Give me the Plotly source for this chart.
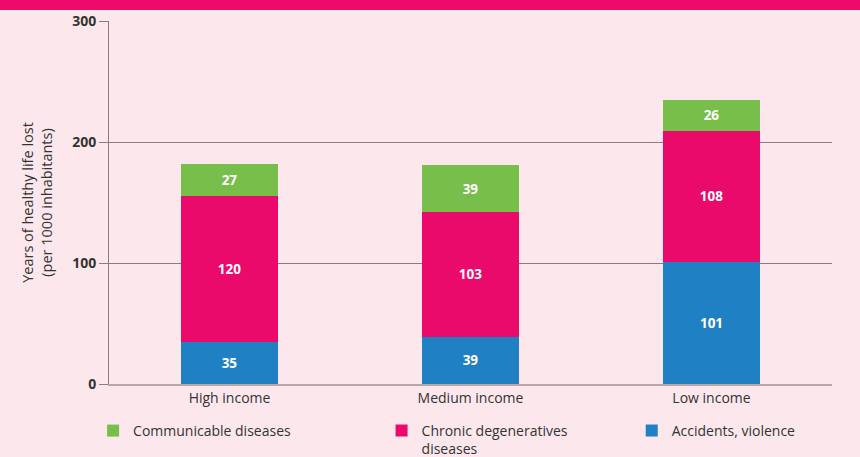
import plotly.graph_objects as go

categorias = ["High income", "Medium income", "Low income"]
accidentes = [35, 39, 101]
cronicas = [120, 103, 108]
transmisibles = [27, 39, 26]
y_ticks = [0, 100, 200, 300]

VERDE = "#78be4a"
ROSA = "#ea0a6b"
AZUL = "#1f80c3"
FONDO = "#fce8ec"
FUENTE = "Open Sans"

fig = go.Figure()
fig.add_trace(
    go.Bar(
        x=categorias,
        y=accidentes,
        name="Accidents, violence",
        marker_color=AZUL,
        text=accidentes,
        legend="legend3",
    )
)
fig.add_trace(
    go.Bar(
        x=categorias,
        y=cronicas,
        name="Chronic degeneratives<br>diseases",
        marker_color=ROSA,
        text=cronicas,
        legend="legend2",
    )
)
fig.add_trace(
    go.Bar(
        x=categorias,
        y=transmisibles,
        name="Communicable diseases",
        marker_color=VERDE,
        text=transmisibles,
        legend="legend",
    )
)
fig.update_traces(
    textposition="inside",
    insidetextanchor="middle",
    textangle=0,
    textfont=dict(family=FUENTE, size=13.5, color="white", weight="bold"),
    marker_line_width=0,
)

leyenda = dict(
    orientation="h",
    yref="container",
    yanchor="top",
    y=1 - 415 / 457,
    xanchor="left",
    bgcolor="rgba(0,0,0,0)",
    font=dict(family=FUENTE, size=14, color="#333333"),
    itemwidth=30,
    valign="top",
)

fig.update_layout(
    barmode="stack",
    bargap=0.6,
    width=860,
    height=457,
    margin=dict(l=109, r=28, t=21, b=73, autoexpand=False),
    paper_bgcolor=FONDO,
    plot_bgcolor=FONDO,
    font=dict(family=FUENTE, size=14, color="#333333"),
    showlegend=True,
    legend=dict(leyenda, x=-0.022),
    legend2=dict(leyenda, x=0.377),
    legend3=dict(leyenda, x=0.723),
    xaxis=dict(
        showline=True,
        linecolor="#b8a8ac",
        linewidth=1.5,
        tickfont=dict(family=FUENTE, size=14, color="#333333"),
        range=[-0.5, 2.5],
    ),
    yaxis=dict(
        range=[0, 300],
        tickvals=y_ticks,
        showgrid=True,
        gridcolor="#8c7c80",
        gridwidth=1,
        zeroline=False,
        showline=True,
        linecolor="#8c7c80",
        linewidth=1,
        ticks="outside",
        ticklen=9,
        tickcolor="#8c7c80",
        tickfont=dict(family=FUENTE, size=14, color="#333333", weight="bold"),
        title=dict(
            text="Years of healthy life lost<br>(per 1000 inhabitants)",
            font=dict(family=FUENTE, size=14.5, color="#333333"),
            standoff=16,
        ),
    ),
    shapes=[
        dict(
            type="rect",
            xref="paper",
            yref="paper",
            x0=-0.2,
            x1=1.1,
            y0=1 + 11 / 363,
            y1=1.2,
            fillcolor="#ec0b6c",
            line_width=0,
            layer="above",
        )
    ],
)

fig.write_html(
    "out.html",
    config={"displayModeBar": False},
    post_script="document.body.style.margin = '0';",
)
